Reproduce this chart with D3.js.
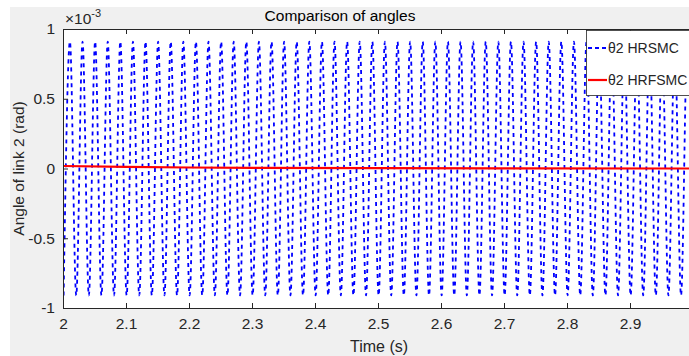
<!DOCTYPE html>
<html>
<head>
<meta charset="utf-8">
<script src="https://cdn.jsdelivr.net/npm/d3@7"></script>
<style>
  html, body { margin: 0; padding: 0; background: #ffffff; }
  svg { display: block; font-family: "Liberation Sans", Arial, Helvetica, sans-serif; }
</style>
</head>
<body>
<svg id="chart" width="689" height="356"></svg>
<script>
// ---- data (angle values in units of 1e-3 rad) ----
const xTicks = [2, 2.1, 2.2, 2.3, 2.4, 2.5, 2.6, 2.7, 2.8, 2.9];
const xTickLabels = ["2", "2.1", "2.2", "2.3", "2.4", "2.5", "2.6", "2.7", "2.8", "2.9"];
const yTicks = [-1, -0.5, 0, 0.5, 1];
const yTickLabels = ["-1", "-0.5", "0", "0.5", "1"];

// HRSMC: oscillation extremes (time in s, angle ×1e-3 rad)
const hrsmcTime = [
  2.001, 2.011, 2.021, 2.031, 2.041, 2.051, 2.061, 2.071, 2.081, 2.091,
  2.101, 2.111, 2.121, 2.131, 2.141, 2.151, 2.161, 2.171, 2.181, 2.191,
  2.201, 2.211, 2.221, 2.231, 2.241, 2.251, 2.261, 2.271, 2.281, 2.291,
  2.301, 2.311, 2.321, 2.331, 2.341, 2.351, 2.361, 2.371, 2.381, 2.391,
  2.401, 2.411, 2.421, 2.431, 2.441, 2.451, 2.461, 2.471, 2.481, 2.491,
  2.501, 2.511, 2.521, 2.531, 2.541, 2.551, 2.561, 2.571, 2.581, 2.591,
  2.601, 2.611, 2.621, 2.631, 2.641, 2.651, 2.661, 2.671, 2.681, 2.691,
  2.701, 2.711, 2.721, 2.731, 2.741, 2.751, 2.761, 2.771, 2.781, 2.791,
  2.801, 2.811, 2.821, 2.831, 2.841, 2.851, 2.861, 2.871, 2.881, 2.891,
  2.901, 2.911, 2.921, 2.931, 2.941, 2.951, 2.961, 2.971, 2.981, 2.991,
  3.001
];
const hrsmcValue = [
  -0.91, 0.91, -0.91, 0.91, -0.91, 0.91, -0.91, 0.91, -0.91, 0.91,
  -0.91, 0.91, -0.91, 0.91, -0.91, 0.91, -0.91, 0.91, -0.91, 0.91,
  -0.91, 0.91, -0.91, 0.91, -0.91, 0.91, -0.91, 0.91, -0.91, 0.91,
  -0.91, 0.91, -0.91, 0.91, -0.91, 0.91, -0.91, 0.91, -0.91, 0.91,
  -0.91, 0.91, -0.91, 0.91, -0.91, 0.91, -0.91, 0.91, -0.91, 0.91,
  -0.91, 0.91, -0.91, 0.91, -0.91, 0.91, -0.91, 0.91, -0.91, 0.91,
  -0.91, 0.91, -0.91, 0.91, -0.91, 0.91, -0.91, 0.91, -0.91, 0.91,
  -0.91, 0.91, -0.91, 0.91, -0.91, 0.91, -0.91, 0.91, -0.91, 0.91,
  -0.91, 0.91, -0.91, 0.91, -0.91, 0.91, -0.91, 0.91, -0.91, 0.91,
  -0.91, 0.91, -0.91, 0.91, -0.91, 0.91, -0.91, 0.91, -0.91, 0.91,
  -0.91
];

// HRFSMC: nearly zero
const hrfsmcTime  = [2.0, 2.1, 2.2, 2.3, 2.5, 2.7, 3.0];
const hrfsmcValue = [0.018, 0.012, 0.007, 0.004, 0.002, 0.001, 0.0];

const seriesNames = ["\u03B82 HRSMC", "\u03B82 HRFSMC"];

// ---- layout ----
const W = 689, H = 356;
const pLeft = 63, pRight = 693, pTop = 29, pBottom = 308;
const axisColor = "#262626";

const svg = d3.select("#chart");

// figure background
svg.append("rect").attr("x", 10).attr("y", 7).attr("width", W - 10).attr("height", H - 7)
  .attr("fill", "#f0f0f0");

const x = d3.scaleLinear().domain([2, 3]).range([pLeft, pRight]);
const y = d3.scaleLinear().domain([-1, 1]).range([pBottom, pTop]);

// plot area
svg.append("rect").attr("x", pLeft).attr("y", pTop)
  .attr("width", pRight - pLeft).attr("height", pBottom - pTop).attr("fill", "#ffffff");

svg.append("clipPath").attr("id", "clip").append("rect")
  .attr("x", pLeft).attr("y", pTop).attr("width", pRight - pLeft).attr("height", pBottom - pTop);

const plot = svg.append("g").attr("clip-path", "url(#clip)");

const blueData = hrsmcTime.map((t, i) => [t, hrsmcValue[i]]);
const redData = hrfsmcTime.map((t, i) => [t, hrfsmcValue[i]]);

const line = d3.line().x(d => x(d[0])).y(d => y(d[1])).curve(d3.curveMonotoneX);

plot.append("path").datum(blueData).attr("d", line)
  .attr("fill", "none").attr("stroke", "#0000ff").attr("stroke-width", 1.8)
  .attr("stroke-dasharray", "4,4");

plot.append("path").datum(redData).attr("d", d3.line().x(d => x(d[0])).y(d => y(d[1])))
  .attr("fill", "none").attr("stroke", "#ff0000").attr("stroke-width", 2.2);

// axes
const tickLen = 5;
const tickFont = "15.5px";
const xAxisB = d3.axisBottom(x).tickValues(xTicks).tickFormat((d, i) => xTickLabels[i])
  .tickSizeInner(-tickLen).tickSizeOuter(0).tickPadding(10);
const gxB = svg.append("g").attr("transform", `translate(0,${pBottom})`).call(xAxisB);

const xAxisT = d3.axisTop(x).tickValues(xTicks).tickFormat("")
  .tickSizeInner(-tickLen).tickSizeOuter(0);
const gxT = svg.append("g").attr("transform", `translate(0,${pTop})`).call(xAxisT);

const yAxisL = d3.axisLeft(y).tickValues(yTicks).tickFormat((d, i) => yTickLabels[i])
  .tickSizeInner(-tickLen).tickSizeOuter(0).tickPadding(8);
const gyL = svg.append("g").attr("transform", `translate(${pLeft},0)`).call(yAxisL);

[gxB, gxT, gyL].forEach(g => {
  g.select(".domain").attr("stroke", axisColor).attr("stroke-width", 1);
  g.selectAll(".tick line").attr("stroke", axisColor).attr("stroke-width", 1);
  g.selectAll(".tick text").attr("fill", axisColor).style("font-size", tickFont)
    .style("font-family", "'Liberation Sans', Arial, sans-serif");
});

// exponent label
const expo = svg.append("text").attr("x", 65).attr("y", 24).attr("fill", axisColor)
  .style("font-size", "15.5px");
expo.append("tspan").text("\u00D710");
expo.append("tspan").attr("dy", -7).style("font-size", "11px").text("-3");

// title
svg.append("text").attr("x", 340).attr("y", 21).attr("text-anchor", "middle")
  .attr("fill", "#000").style("font-size", "15.5px").text("Comparison of angles");

// x label
svg.append("text").attr("x", 379).attr("y", 352).attr("text-anchor", "middle")
  .attr("fill", axisColor).style("font-size", "16px").text("Time (s)");

// y label
svg.append("text").attr("transform", `translate(24,${(pTop + pBottom) / 2}) rotate(-90)`)
  .attr("text-anchor", "middle").attr("fill", axisColor).style("font-size", "15.5px")
  .text("Angle of link 2 (rad)");

// legend
const lg = svg.append("g");
lg.append("rect").attr("x", 586.5).attr("y", 30.5).attr("width", 120).attr("height", 65)
  .attr("fill", "#ffffff").attr("stroke", axisColor).attr("stroke-width", 0.8);
const legendItems = [
  { name: seriesNames[0], color: "#0000ff", dash: "4,3", y: 48 },
  { name: seriesNames[1], color: "#ff0000", dash: null, y: 80 }
];
legendItems.forEach(it => {
  const l = lg.append("line").attr("x1", 588).attr("x2", 607).attr("y1", it.y).attr("y2", it.y)
    .attr("stroke", it.color).attr("stroke-width", it.dash ? 1.8 : 2.2);
  if (it.dash) l.attr("stroke-dasharray", it.dash);
  lg.append("text").attr("x", 608).attr("y", it.y + 5).attr("fill", axisColor)
    .style("font-size", "14px").text(it.name);
});
</script>
</body>
</html>
